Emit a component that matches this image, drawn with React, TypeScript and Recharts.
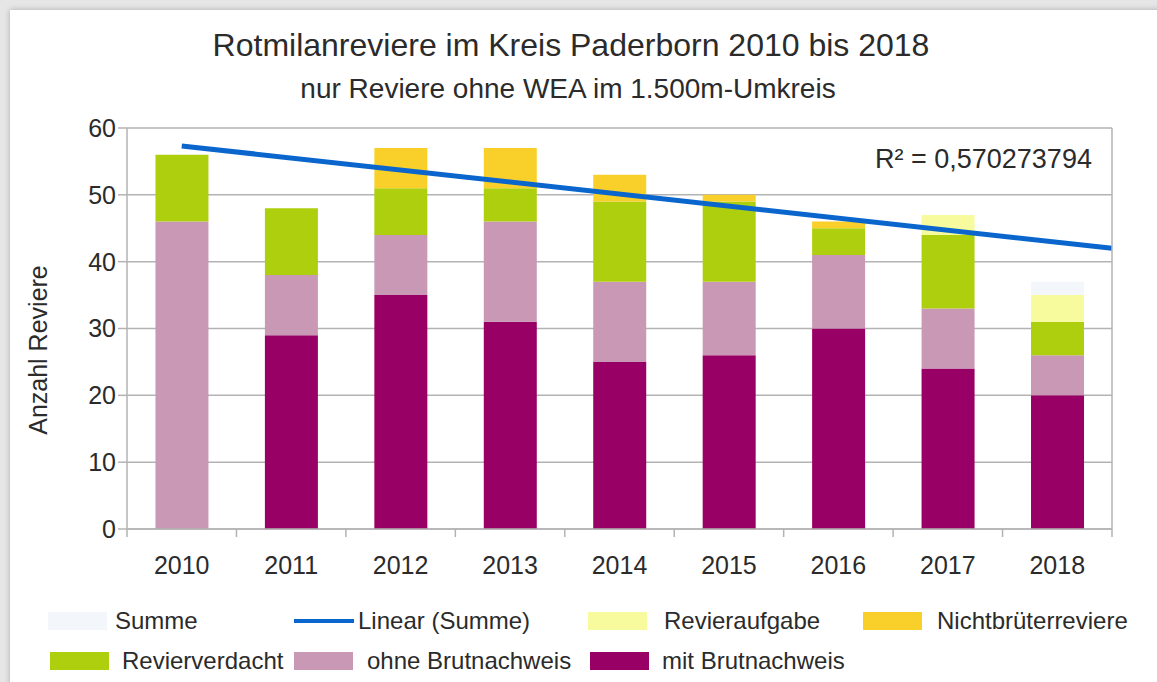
import React from "react";
import { Bar, CartesianGrid, ComposedChart, ReferenceLine, XAxis, YAxis } from "recharts";

const years = ["2010", "2011", "2012", "2013", "2014", "2015", "2016", "2017", "2018"];
const mitBrutnachweis = [0, 29, 35, 31, 25, 26, 30, 24, 20];
const ohneBrutnachweis = [46, 9, 9, 15, 12, 11, 11, 9, 6];
const revierverdacht = [10, 10, 7, 5, 12, 12, 4, 11, 5];
const nichtbrueter = [0, 0, 6, 6, 4, 1, 1, 0, 0];
const revieraufgabe = [0, 0, 0, 0, 0, 0, 0, 3, 4];
const summe = [56, 48, 57, 57, 53, 50, 46, 47, 37];

const COLORS = {
  mit: "#990066",
  ohne: "#c898b4",
  verdacht: "#aecf0e",
  nicht: "#f9d02a",
  aufgabe: "#f7fb9e",
  summe: "#f3f7fc",
  trend: "#0a66cc",
};

const FONT = "'Liberation Sans', Arial, sans-serif";
const TEXT = "#2b2b2b";

const data = years.map((year, i) => ({
  year,
  pos: i + 1,
  mit: mitBrutnachweis[i],
  ohne: ohneBrutnachweis[i],
  verdacht: revierverdacht[i],
  nicht: nichtbrueter[i],
  aufgabe: revieraufgabe[i],
  rest: summe[i] - (mitBrutnachweis[i] + ohneBrutnachweis[i] + revierverdacht[i] + nichtbrueter[i] + revieraufgabe[i]),
}));

// linear trend of Summe (x = 1..n)
const n = summe.length;
const mx = (n + 1) / 2;
const my = summe.reduce((a, b) => a + b, 0) / n;
let sxy = 0;
let sxx = 0;
summe.forEach((y, i) => {
  sxy += (i + 1 - mx) * (y - my);
  sxx += (i + 1 - mx) * (i + 1 - mx);
});
const slope = sxy / sxx;
const trendAt = (x: number) => my + slope * (x - mx);

const W = 1157;
const H = 682;
const PLOT_LEFT = 127;
const PLOT_RIGHT = 1112;
const HALF_BAND = (PLOT_RIGHT - PLOT_LEFT) / years.length / 2;

const YearTick = (props: any) => {
  const { x, y, payload } = props;
  const idx = Math.round(payload.value + 0.5);
  if (idx < 1 || idx > years.length) return <g />;
  return (
    <text x={x + HALF_BAND} y={y + 35} textAnchor="middle" fill={TEXT} fontSize={25} fontFamily={FONT}>
      {years[idx - 1]}
    </text>
  );
};

const legendRow1 = [
  { label: "Summe", color: COLORS.summe, x: 48, tx: 115, line: false },
  { label: "Linear (Summe)", color: COLORS.trend, x: 294, tx: 358, line: true },
  { label: "Revieraufgabe", color: COLORS.aufgabe, x: 588, tx: 664, line: false },
  { label: "Nichtbrüterreviere", color: COLORS.nicht, x: 863, tx: 937, line: false },
];
const legendRow2 = [
  { label: "Revierverdacht", color: COLORS.verdacht, x: 50, tx: 122, line: false },
  { label: "ohne Brutnachweis", color: COLORS.ohne, x: 294, tx: 367, line: false },
  { label: "mit Brutnachweis", color: COLORS.mit, x: 590, tx: 662, line: false },
];

const LegendItem = ({ item, y }: { item: any; y: number }) => (
  <>
    {item.line ? (
      <div style={{ position: "absolute", left: item.x, top: y - 2, width: 60, height: 4, background: item.color }} />
    ) : (
      <div style={{ position: "absolute", left: item.x, top: y - 9, width: 59, height: 18, background: item.color }} />
    )}
    <div style={{ position: "absolute", left: item.tx, top: y - 16, fontSize: 24, lineHeight: "32px", color: TEXT, whiteSpace: "nowrap" }}>
      {item.label}
    </div>
  </>
);

export default function App() {
  return (
    <div style={{ position: "absolute", left: 0, top: 0, width: W, height: H, overflow: "hidden", background: "#e6e6e6", fontFamily: FONT }}>
      <div style={{ position: "absolute", left: 10, top: 10, width: W, height: H, background: "#ffffff", boxShadow: "0 0 6px rgba(0,0,0,0.25)" }} />
      <div style={{ position: "absolute", left: 0, top: 0 }}>
        <ComposedChart
          width={W}
          height={H}
          data={data}
          margin={{ top: 128, right: 5, left: 67, bottom: 113 }}
          barCategoryGap="26%"
        >
          <CartesianGrid vertical={false} stroke="#b3b3b3" strokeWidth={1.5} yAxisId="left" />
          <XAxis xAxisId="cat" dataKey="year" hide height={0} />
          <XAxis
            xAxisId="num"
            dataKey="pos"
            type="number"
            domain={[0.5, 9.5]}
            ticks={[0.5, 1.5, 2.5, 3.5, 4.5, 5.5, 6.5, 7.5, 8.5, 9.5]}
            height={40}
            stroke="#b3b3b3"
            strokeWidth={1.5}
            tickSize={8}
            tick={YearTick}
            interval={0}
            allowDataOverflow
          />
          <YAxis
            yAxisId="left"
            domain={[0, 60]}
            ticks={[0, 10, 20, 30, 40, 50, 60]}
            width={60}
            stroke="#b3b3b3"
            strokeWidth={1.5}
            tickSize={9}
            tick={{ fill: TEXT, fontSize: 25, fontFamily: FONT }}
          />
          <YAxis
            yAxisId="right"
            orientation="right"
            domain={[0, 60]}
            ticks={[0, 10, 20, 30, 40, 50, 60]}
            width={40}
            stroke="#b3b3b3"
            strokeWidth={1.5}
            tickSize={9}
            tick={{ fill: TEXT, fontSize: 25, fontFamily: FONT, textAnchor: "start" }}
          />
          <Bar xAxisId="cat" yAxisId="left" dataKey="mit" stackId="a" fill={COLORS.mit} isAnimationActive={false} />
          <Bar xAxisId="cat" yAxisId="left" dataKey="ohne" stackId="a" fill={COLORS.ohne} isAnimationActive={false} />
          <Bar xAxisId="cat" yAxisId="left" dataKey="verdacht" stackId="a" fill={COLORS.verdacht} isAnimationActive={false} />
          <Bar xAxisId="cat" yAxisId="left" dataKey="nicht" stackId="a" fill={COLORS.nicht} isAnimationActive={false} />
          <Bar xAxisId="cat" yAxisId="left" dataKey="aufgabe" stackId="a" fill={COLORS.aufgabe} isAnimationActive={false} />
          <Bar xAxisId="cat" yAxisId="left" dataKey="rest" stackId="a" fill={COLORS.summe} isAnimationActive={false} />
          <ReferenceLine
            xAxisId="num"
            yAxisId="left"
            segment={[
              { x: 1, y: trendAt(1) },
              { x: 9.5, y: trendAt(9.5) },
            ]}
            stroke={COLORS.trend}
            strokeWidth={5}
          />
        </ComposedChart>
      </div>
      <div style={{ position: "absolute", left: 10, top: 350, width: 0, height: 0 }}>
        <div style={{ position: "absolute", left: 0, top: 0, transform: "translate(-50%, -50%) rotate(-90deg)", transformOrigin: "center", fontSize: 25, lineHeight: "28px", color: TEXT, whiteSpace: "nowrap", marginLeft: 28 }}>
          Anzahl Reviere
        </div>
      </div>
      <div style={{ position: "absolute", left: 0, width: 1142, top: 25, textAlign: "center", fontSize: 32, lineHeight: "40px", color: TEXT }}>
        Rotmilanreviere im Kreis Paderborn 2010 bis 2018
      </div>
      <div style={{ position: "absolute", left: 0, width: 1136, top: 72, textAlign: "center", fontSize: 28, lineHeight: "34px", color: TEXT }}>
        nur Reviere ohne WEA im 1.500m-Umkreis
      </div>
      <div style={{ position: "absolute", left: 875, top: 142, fontSize: 27, lineHeight: "34px", color: TEXT, whiteSpace: "nowrap" }}>
        R² = 0,570273794
      </div>
      {legendRow1.map((item) => (
        <LegendItem key={item.label} item={item} y={621} />
      ))}
      {legendRow2.map((item) => (
        <LegendItem key={item.label} item={item} y={661} />
      ))}
    </div>
  );
}
